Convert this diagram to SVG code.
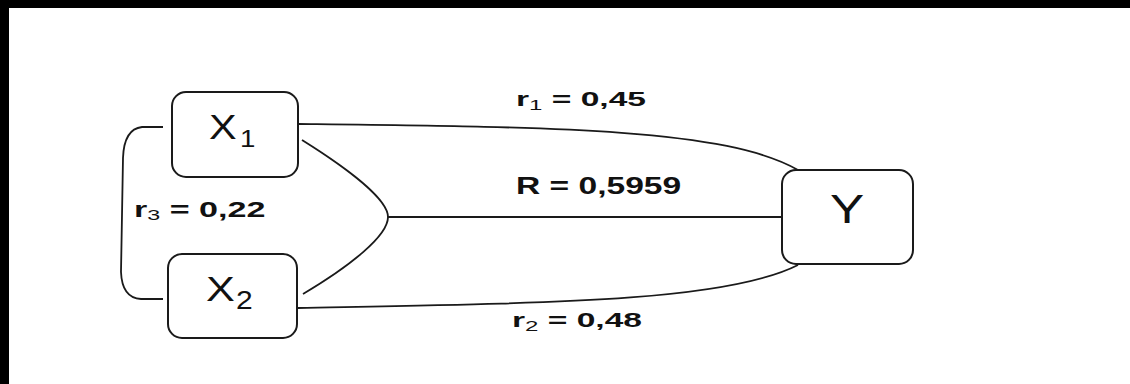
<svg xmlns="http://www.w3.org/2000/svg" width="1130" height="384" viewBox="0 0 1130 384">
<style>
.box{fill:#fff;stroke:#1a1a1a;stroke-width:2}
.ln{fill:none;stroke:#1a1a1a;stroke-width:1.8}
.nt{font-family:"Liberation Sans",Arial,sans-serif;fill:#111}
.lb{font-family:"Liberation Sans",Arial,sans-serif;font-weight:bold;fill:#111;font-size:21px}
.sb{font-weight:normal;font-size:15px}
</style>
<rect x="0" y="0" width="1130" height="384" fill="#fff"/>
<rect x="0" y="0" width="1130" height="8" fill="#000"/>
<rect x="0" y="0" width="9" height="384" fill="#000"/>
<g id="connectors">
<path class="ln" d="M298,124 C550,127 725,128 798,170"/>
<path class="ln" d="M298,308 C550,303 725,302 798,265"/>
<path class="ln" d="M302,140 C350,170 388,200 388,217 C388,236 350,266 303,294"/>
<path class="ln" d="M388,217 L782,217"/>
<path class="ln" d="M163,127 L142,127 Q124,129 123,158 L121,272 Q122,298 141,299 L163,299"/>
</g>
<g id="labels">
<text class="lb" transform="translate(516,106) scale(1.6,1)">r<tspan class="sb" dy="4">1</tspan><tspan dy="-4"> = 0,45</tspan></text>
<text class="lb" style="font-size:23px" transform="translate(516,194) scale(1.46,1)">R = 0,5959</text>
<text class="lb" transform="translate(512,327) scale(1.6,1)">r<tspan class="sb" dy="4">2</tspan><tspan dy="-4"> = 0,48</tspan></text>
<text class="lb" style="font-size:22px" transform="translate(134,217) scale(1.55,1)">r<tspan class="sb" dy="3">3</tspan><tspan dy="-3"> = 0,22</tspan></text>
</g>
<g id="X1">
<rect class="box" x="172" y="92" width="126" height="85" rx="14"/>
<text class="nt" transform="translate(209,139) scale(1.15,1)" font-size="36">X<tspan font-size="24" dx="3" dy="8">1</tspan></text>
</g>
<g id="X2">
<rect class="box" x="168" y="254" width="129" height="84" rx="14"/>
<text class="nt" transform="translate(206,301) scale(1.2,1)" font-size="36">X<tspan font-size="25" dx="1" dy="8">2</tspan></text>
</g>
<g id="Y">
<rect class="box" x="782" y="170" width="131" height="94" rx="14"/>
<text class="nt" transform="translate(847,223) scale(1.25,1)" font-size="41" text-anchor="middle">Y</text>
</g>
</svg>
